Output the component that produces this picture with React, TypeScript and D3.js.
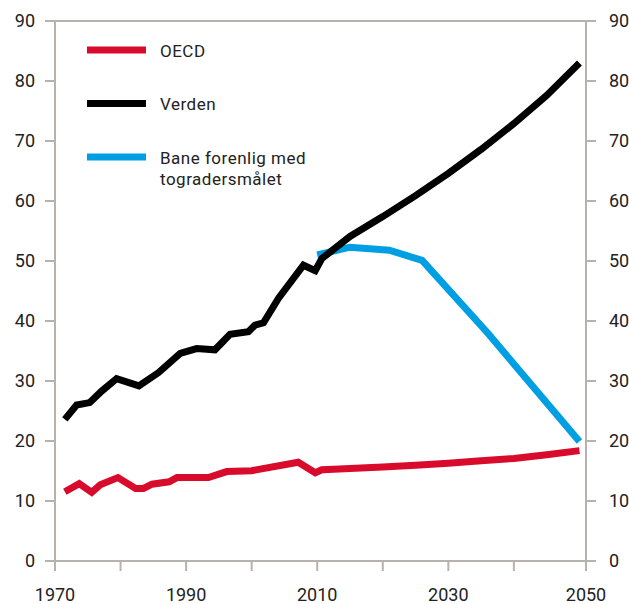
import React from "react";
import * as d3 from "d3";

const oecdYears = [1971.5, 1973.7, 1975.6, 1976.9, 1979.6, 1982.3, 1983.5, 1984.8, 1987.4, 1988.6, 1993.4, 1996.2, 2000, 2007.1, 2009.7, 2010.7, 2012.5, 2015, 2020, 2025, 2030, 2035, 2040, 2045, 2050];
const oecdValues = [11.55, 12.9, 11.45, 12.7, 13.9, 12.1, 12.1, 12.8, 13.2, 13.9, 13.9, 14.9, 15.05, 16.45, 14.7, 15.2, 15.3, 15.4, 15.65, 15.95, 16.3, 16.7, 17.1, 17.7, 18.4];

const worldYears = [1971.5, 1973.3, 1975.3, 1977.1, 1979.4, 1982.8, 1985.8, 1989.1, 1991.6, 1994.4, 1996.7, 1999.5, 2000.5, 2001.8, 2004.1, 2007.9, 2009.7, 2010.7, 2015, 2020, 2025, 2030, 2035, 2040, 2045, 2050];
const worldValues = [23.6, 26.0, 26.4, 28.3, 30.4, 29.2, 31.4, 34.6, 35.4, 35.2, 37.8, 38.2, 39.3, 39.7, 43.8, 49.3, 48.4, 50.4, 54.1, 57.4, 60.9, 64.6, 68.6, 72.9, 77.6, 83.0];

const twoDegYears = [2010, 2015, 2021, 2026, 2036, 2050];
const twoDegValues = [51.0, 52.3, 51.8, 50.1, 38.0, 19.9];

const yTicks = [0, 10, 20, 30, 40, 50, 60, 70, 80, 90];
const xTicks = [1970, 1980, 1990, 2000, 2010, 2020, 2030, 2040];
const xLabels = ["1970", "1990", "2010", "2030", "2050"];

const series = [
  { name: "OECD", years: oecdYears, values: oecdValues, color: "#d90b2c" },
  { name: "Verden", years: worldYears, values: worldValues, color: "#000000" },
  { name: "Bane forenlig med|togradersmålet", years: twoDegYears, values: twoDegValues, color: "#009fe3" },
];

export default function App() {
  const W = 629, H = 604;
  const left = 55, right = 586, top = 21, bottom = 561;
  const x = d3.scaleLinear().domain([1970, 2051]).range([left, right]);
  const y = d3.scaleLinear().domain([0, 90]).range([bottom, top]);
  const line = d3.line<[number, number]>().x(d => x(d[0])).y(d => y(d[1]));
  const axisColor = "#b7b2ad";
  const font = "Roboto, 'Liberation Sans', sans-serif";
  const drawOrder = [2, 1, 0];
  const allTicks = [...xTicks.map(t => x(t)), right];

  return (
    <svg width={W} height={H} style={{ position: "absolute", left: 0, top: 0, background: "#fff" }} fontFamily={font}>
      <line x1={left - 10} x2={right + 10} y1={y(90)} y2={y(90)} stroke={axisColor} strokeWidth={2} />
      <line x1={left - 10} x2={right + 10} y1={y(0)} y2={y(0)} stroke={axisColor} strokeWidth={2} />
      <line x1={left} x2={left} y1={top} y2={bottom + 10} stroke={axisColor} strokeWidth={2} />
      <line x1={right} x2={right} y1={top} y2={bottom + 10} stroke={axisColor} strokeWidth={2} />
      {yTicks.map(t => (
        <g key={t}>
          <line x1={left - 10} x2={left} y1={y(t)} y2={y(t)} stroke={axisColor} strokeWidth={2} />
          <line x1={right} x2={right + 10} y1={y(t)} y2={y(t)} stroke={axisColor} strokeWidth={2} />
          <text x={35} y={y(t)} dy="0.36em" textAnchor="end" fontSize={18} fill="#222">{t}</text>
          <text x={609} y={y(t)} dy="0.36em" textAnchor="start" fontSize={18} fill="#222">{t}</text>
        </g>
      ))}
      {allTicks.map((px, i) => (
        <line key={i} x1={px} x2={px} y1={bottom} y2={bottom + 10} stroke={axisColor} strokeWidth={2} />
      ))}
      {xLabels.map((lab, i) => (
        <text key={lab} x={allTicks[i * 2]} y={601} textAnchor="middle" fontSize={18} fill="#222">{lab}</text>
      ))}
      {drawOrder.map(i => {
        const s = series[i];
        const pts = s.years.map((yr, j) => [yr, s.values[j]] as [number, number]);
        return <path key={s.name} d={line(pts) || ""} fill="none" stroke={s.color} strokeWidth={7} strokeLinejoin="miter" strokeMiterlimit={4} />;
      })}
      {series.map((s, i) => {
        const ly = 50 + i * 53.5;
        const parts = s.name.split("|");
        return (
          <g key={s.name}>
            <line x1={87} x2={146} y1={ly} y2={ly} stroke={s.color} strokeWidth={7} />
            <text x={160} y={ly + 6.5} fontSize={17} letterSpacing={0.5} fill="#222">
              {parts.map((p, k) => (
                <tspan key={k} x={160} dy={k === 0 ? 0 : 21}>{p}</tspan>
              ))}
            </text>
          </g>
        );
      })}
    </svg>
  );
}
